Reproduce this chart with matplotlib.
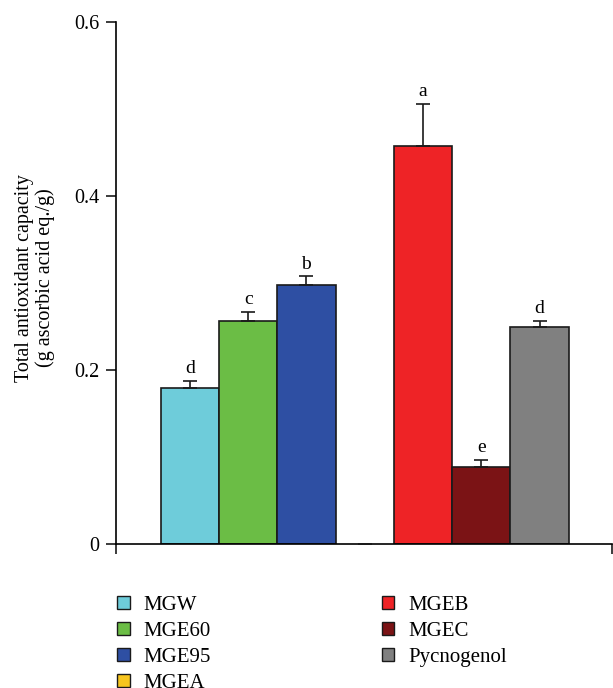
import numpy as np
import matplotlib
matplotlib.use("Agg")
import matplotlib.pyplot as plt
from matplotlib.patches import Patch

plt.rcParams['font.family'] = ['Liberation Serif', 'DejaVu Serif']

# data
samples = ['MGW', 'MGE60', 'MGE95', 'MGEA', 'MGEB', 'MGEC', 'Pycnogenol']
values = [0.179, 0.257, 0.298, 0.0, 0.457, 0.089, 0.249]
errors = [0.009, 0.010, 0.010, 0.0, 0.049, 0.008, 0.008]
letters = ['d', 'c', 'b', '', 'a', 'e', 'd']
colors = ['#6ECCDA', '#6BBD45', '#2E4FA3', '#F7C51E', '#EE2326', '#7B1315', '#808080']

fig = plt.figure(figsize=(6.13, 6.88), dpi=100)
ax = fig.add_axes([0.189, 0.209, 0.809, 0.759])

x = np.arange(len(samples))
bars = ax.bar(x, values, width=1.0, color=colors, edgecolor='#1a1a1a', linewidth=1.2, zorder=2)
bars[3].set_linewidth(0)
ax.errorbar(x, values, yerr=[np.zeros(len(errors)), errors], fmt='none',
            ecolor='#1a1a1a', elinewidth=1.2, capsize=5, capthick=1.2, zorder=3)
for xi, v, e, t in zip(x, values, errors, letters):
    if t:
        ax.text(xi, v + e + 0.004, t, ha='center', va='bottom', fontsize=14)

ax.set_xlim(-1.27, 7.24)
ax.set_ylim(0, 0.6)
ax.set_yticks([0, 0.2, 0.4, 0.6])
ax.set_yticklabels(['0', '0.2', '0.4', '0.6'], fontsize=14.5)
ax.set_xticks([-1.27, 7.24])
ax.set_xticklabels(['', ''])
ax.tick_params(axis='both', direction='out', length=7, width=1.2, color='#1a1a1a', pad=5)
ax.spines['top'].set_visible(False)
ax.spines['right'].set_visible(False)
ax.spines['left'].set_linewidth(1.2)
ax.spines['bottom'].set_linewidth(1.2)
ax.set_ylabel('Total antioxidant capacity\n(g ascorbic acid eq./g)', fontsize=14.5,
              linespacing=1.1)
ax.yaxis.set_label_coords(-0.122, 0.51)

handles = [Patch(facecolor=c, edgecolor='#1a1a1a', linewidth=1.0) for c in colors]
leg_kw = dict(frameon=False, fontsize=15, handlelength=0.6, handleheight=0.6,
              handletextpad=0.65, labelspacing=0.34, borderaxespad=0, borderpad=0)
fig.legend(handles[:4], samples[:4], loc='upper left', bbox_to_anchor=(0.191, 0.134), **leg_kw)
fig.legend(handles[4:], samples[4:], loc='upper left', bbox_to_anchor=(0.623, 0.134), **leg_kw)

fig.savefig('out.png', dpi=100)
